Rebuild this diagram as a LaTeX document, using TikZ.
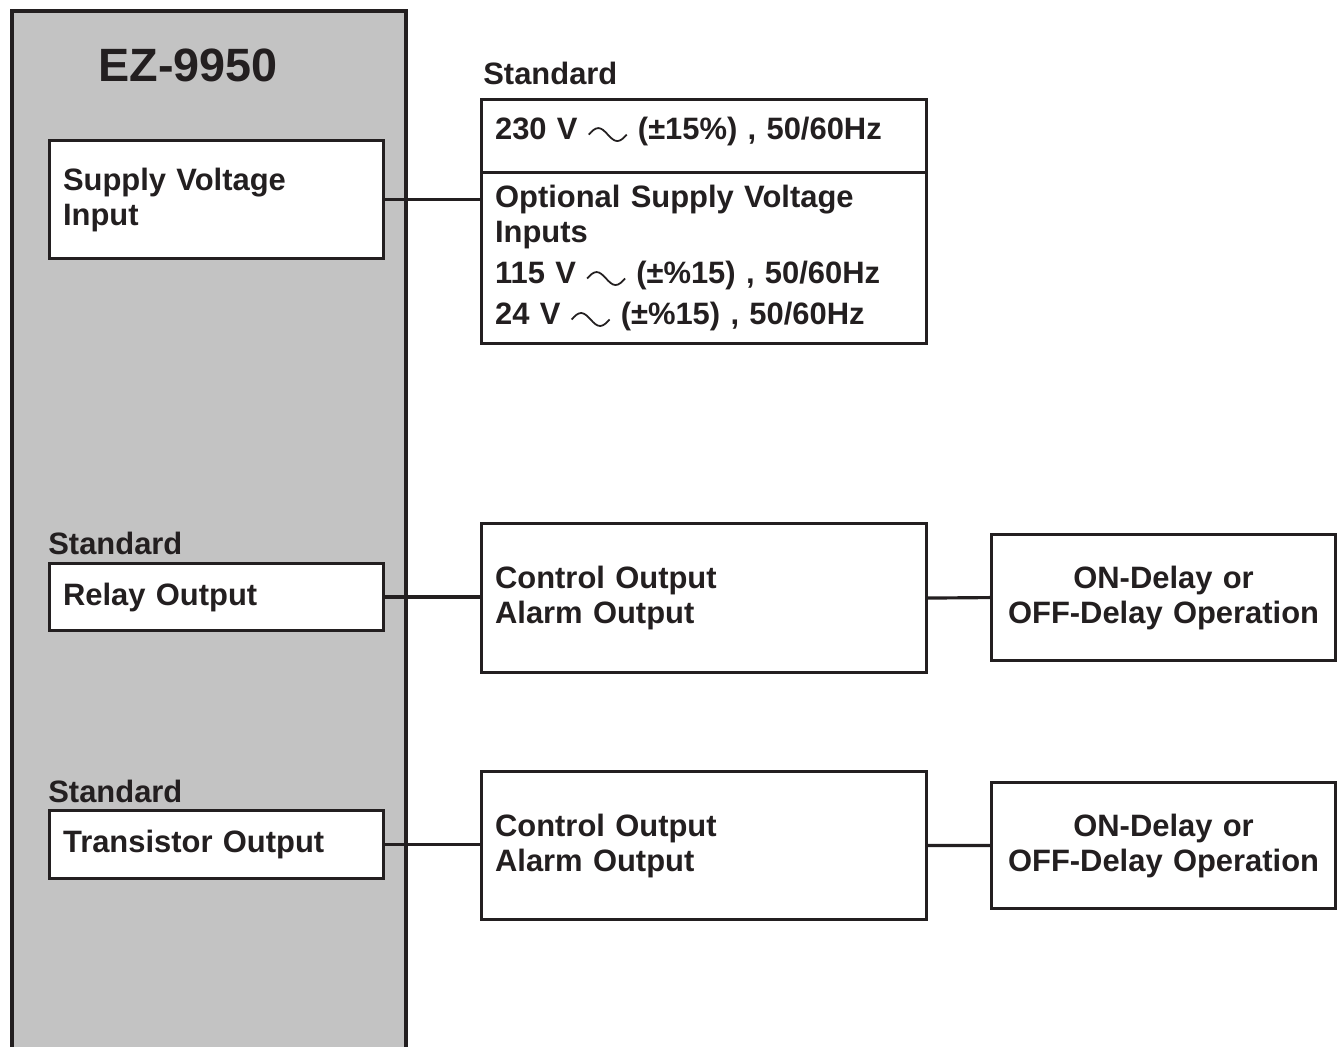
\documentclass[tikz,border=0pt]{standalone}
\usepackage{fontspec}
\setmainfont{Liberation Sans}
\definecolor{ink}{HTML}{231F20}
\definecolor{panel}{HTML}{C3C3C3}
\newcommand{\bodyfont}{\bfseries\fontsize{17.6}{19.9}\selectfont}
\newcommand{\acwave}{\tikz[x=1cm,y=1cm,baseline=0pt]\draw[ink,line width=1pt] (0,0.1) sin (0.19,0.23) cos (0.38,0.1) sin (0.57,-0.03) cos (0.76,0.1);}
\tikzset{
  box/.style={draw=ink,line width=1.8pt,fill=white,inner xsep=0.27cm,inner ysep=0pt,align=left,anchor=north west,text=ink,font=\bodyfont},
  lbl/.style={inner sep=0pt,anchor=base west,text=ink,font=\bodyfont},
  wire/.style={draw=ink,line width=1.8pt}
}
\begin{document}
\begin{tikzpicture}[x=0.02cm,y=-0.02cm]
\useasboundingbox (0,0) rectangle (1342,1047);
\draw[wire,fill=panel] (12,1060) -- (12,11) -- (406,11) -- (406,1060);
\node[lbl,anchor=base,font=\bfseries\fontsize{26.6}{32}\selectfont] (model) at (188,82) {EZ-9950};
\node[box,text width=6.14cm,minimum height=2.36cm] (supply) at (48,139) {Supply Voltage\\Input};
\node[lbl] (stdrelay) at (48,554) {Standard};
\node[box,text width=6.14cm,minimum height=1.34cm] (relay) at (48,562) {Relay Output};
\node[lbl] (stdtrans) at (48,802) {Standard};
\node[box,text width=6.14cm,minimum height=1.36cm] (trans) at (48,809) {Transistor Output};
\node[lbl] (stdsupply) at (483,85) {Standard};
\node[box,text width=8.36cm,text height=0.8cm,text depth=0.66cm] (std) at (480,98) {230 V \acwave{} (±15\%) , 50/60Hz};
\node[box,text width=8.36cm,minimum height=3.42cm] (opt) at (480,171) {Optional Supply Voltage\\Inputs\\[0.12cm]115 V \acwave{} (±\%15) , 50/60Hz\\[0.12cm]24 V \acwave{} (±\%15) , 50/60Hz};
\node[box,text width=8.36cm,minimum height=2.98cm] (ctlrelay) at (480,522) {Control Output\\Alarm Output};
\node[box,text width=6.34cm,minimum height=2.52cm,align=center] (delayrelay) at (990,533) {ON-Delay or\\OFF-Delay Operation};
\node[box,text width=8.36cm,minimum height=2.96cm] (ctltrans) at (480,770) {Control Output\\Alarm Output};
\node[box,text width=6.34cm,minimum height=2.52cm,align=center] (delaytrans) at (990,781) {ON-Delay or\\OFF-Delay Operation};
\draw[wire] (supply.east) -- (supply.east -| opt.west);
\draw[wire] (relay.east) -- (relay.east -| ctlrelay.west);
\draw[wire] (ctlrelay.east) -- (delayrelay.west);
\draw[wire] (trans.east) -- (trans.east -| ctltrans.west);
\draw[wire] (ctltrans.east) -- (delaytrans.west);
\end{tikzpicture}
\end{document}
